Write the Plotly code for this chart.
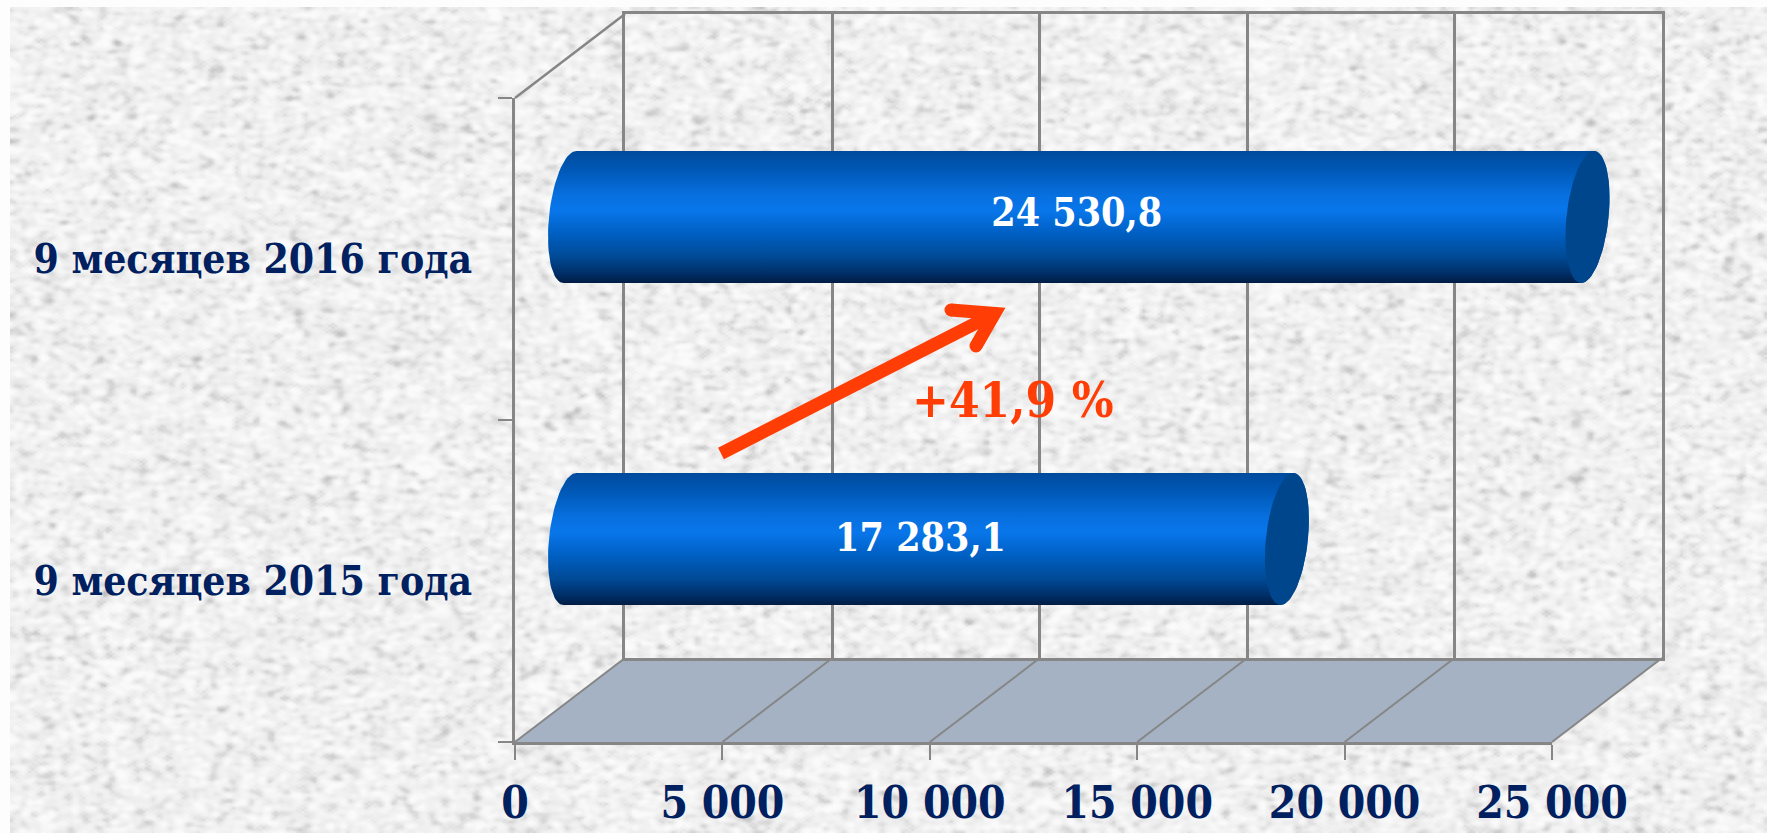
import base64, struct, zlib
import numpy as np
import plotly.graph_objects as go

# ---------- data ----------
categories = ["9 месяцев 2015 года", "9 месяцев 2016 года"]
values = [17283.1, 24530.8]
value_labels = ["17 283,1", "24 530,8"]
x_ticks = [0, 5000, 10000, 15000, 20000, 25000]
x_tick_labels = ["0", "5 000", "10 000", "15 000", "20 000", "25 000"]
growth_label = "+41,9 %"

# ---------- page geometry (pixels) ----------
W, H = 1767, 833
FX0, FX1, FY0, FY1 = 515, 1552, 98, 742       # front plane
DX, DY = 110, 84                              # depth of the 3D box
PAD = 60                                      # room round the cylinders for their round ends
NAVY, ORANGE, GRID = "#002060", "#FF3D05", "#868686"
FONT = "DejaVu Serif Condensed"


def px(x):
    return x / W


def py(y):
    return 1 - y / H


def dom_x(a, b):
    return [px(a), px(b)]


def dom_y(top, bottom):
    return [py(bottom), py(top)]


# ---------- paper texture (page decoration only) ----------
def paper_texture(w, h):
    rng = np.random.default_rng(7)
    a = rng.normal(size=(h, w))
    for _ in range(2):
        a = (a + np.roll(a, 1, 0) + np.roll(a, -1, 0) + np.roll(a, 1, 1) + np.roll(a, -1, 1)) / 5
    a = a / a.std()
    g = np.clip(241 + 6 * a - 9 * np.clip(-a - 0.7, 0, None), 190, 251).astype(np.uint8)
    raw = b"".join(b"\x00" + row.tobytes() for row in g)

    def chunk(t, d):
        return struct.pack(">I", len(d)) + t + d + struct.pack(">I", zlib.crc32(t + d))

    png = (b"\x89PNG\r\n\x1a\n" + chunk(b"IHDR", struct.pack(">IIBBBBB", w, h, 8, 0, 0, 0, 0))
           + chunk(b"IDAT", zlib.compress(raw, 9)) + chunk(b"IEND", b""))
    return "data:image/png;base64," + base64.b64encode(png).decode()


fig = go.Figure()

# invisible traces so the front axes and the back wall render (lowest subplots)
fig.add_trace(go.Scatter(x=[0], y=[categories[0]], xaxis="x", yaxis="y", mode="markers",
                         marker=dict(opacity=0), hoverinfo="skip", showlegend=False))
fig.add_trace(go.Scatter(x=[0], y=[0], xaxis="x2", yaxis="y2", mode="markers",
                         marker=dict(opacity=0), hoverinfo="skip", showlegend=False))

# ---------- cylinders ----------
x_per_px = 25000 / (FX1 - FX0)
y_per_px = 2 / (FY1 - FY0)
CAP_A = 22 * x_per_px
BAR_HALF = 66 * y_per_px
PHI = np.radians(17)
GRADIENT = [[0, "#001C44"], [0.08, "#00306A"], [0.2, "#004A96"], [0.38, "#0060C4"], [0.55, "#0876EA"],
            [0.66, "#0870E0"], [0.85, "#0059B8"], [1, "#004A9C"]]

for i, (cat, val) in enumerate(zip(categories, values)):
    t_left = np.radians(np.linspace(90, 270, 40))
    t_right = np.radians(np.linspace(-90, 90, 40))
    xs = np.r_[0 + CAP_A * np.cos(t_left - PHI), val + CAP_A * np.cos(t_right - PHI)]
    ys = np.r_[i + BAR_HALF * np.sin(t_left), i + BAR_HALF * np.sin(t_right)]
    fig.add_trace(go.Scatter(x=xs, y=ys, xaxis="x3", yaxis="y3", mode="lines", line=dict(width=0),
                             fill="toself", fillgradient=dict(type="vertical", colorscale=GRADIENT),
                             hoverinfo="skip", showlegend=False))
    t = np.radians(np.linspace(0, 360, 80))
    fig.add_trace(go.Scatter(x=val + CAP_A * np.cos(t - PHI), y=i + BAR_HALF * np.sin(t),
                             xaxis="x3", yaxis="y3", mode="lines", line=dict(width=0),
                             fill="toself", fillcolor="#00468C", hoverinfo="skip", showlegend=False))

fig.add_trace(go.Scatter(x=[values[0] / 2 - 190, values[1] / 2 - 50], y=[-0.007, 1.003], xaxis="x3", yaxis="y3",
                         mode="text", text=value_labels, textposition="middle center",
                         textfont=dict(family=FONT, size=39, color="white", weight="bold"),
                         hoverinfo="skip", showlegend=False))


# ---------- 3D box shapes ----------
def seg(x0, y0, x1, y1, width=2, color=GRID, layer="below"):
    return dict(type="line", xref="paper", yref="paper", x0=px(x0), y0=py(y0), x1=px(x1), y1=py(y1),
                line=dict(color=color, width=width), layer=layer)


shapes = [dict(type="path", xref="paper", yref="paper", layer="below", line=dict(width=0), fillcolor="#A5B2C3",
               path=f"M {px(FX0)} {py(FY1)} L {px(FX0 + DX)} {py(FY1 - DY)} L {px(FX1 + DX)} {py(FY1 - DY)} "
                    f"L {px(FX1)} {py(FY1)} Z")]
for v in x_ticks:
    fx = FX0 + (FX1 - FX0) * v / 25000
    shapes.append(seg(fx, FY1, fx + DX, FY1 - DY))
shapes.append(seg(FX0, FY0, FX0 + DX, FY0 - DY, width=2.5))


# ---------- arrow ----------
def path_shape(pts, width):
    d = "M " + " L ".join(f"{px(a)} {py(b)}" for a, b in pts)
    return dict(type="path", xref="paper", yref="paper", path=d, line=dict(color=ORANGE, width=width),
                fillcolor="rgba(0,0,0,0)", layer="above")


def dot(a, b, r):
    return dict(type="circle", xref="paper", yref="paper", x0=px(a - r), x1=px(a + r), y0=py(b + r), y1=py(b - r),
                fillcolor=ORANGE, line=dict(width=0), layer="above")


shapes += [path_shape([(721, 453.5), (988, 317)], 13),
           path_shape([(951, 310), (994.7, 313.5), (976, 346)], 13),
           dot(951, 310, 6.5), dot(976, 346, 6.5)]

fig.update_layout(
    width=W, height=H, margin=dict(l=0, r=0, t=0, b=0, autoexpand=False), autosize=False,
    paper_bgcolor="#FDFDFD", plot_bgcolor="rgba(0,0,0,0)", showlegend=False,
    shapes=shapes,
    images=[dict(source=paper_texture((W - 10) // 3, (H - 7) // 2), xref="paper", yref="paper", x=px(10), y=py(7),
                 sizex=px(W - 10), sizey=1 - 7 / H, xanchor="left", yanchor="top",
                 sizing="stretch", layer="below")],
    xaxis=dict(domain=dom_x(FX0, FX1), range=[0, 25000], anchor="y", tickmode="array", tickvals=x_ticks,
               ticktext=x_tick_labels, ticks="outside", ticklen=15, tickcolor=GRID, tickwidth=2,
               showline=True, linecolor=GRID, linewidth=3, showgrid=False, zeroline=False, automargin=False,
               tickfont=dict(family=FONT, size=44, color=NAVY, weight="bold"), ticklabelstandoff=5),
    yaxis=dict(domain=dom_y(FY0, FY1), range=[-0.5, 1.5], anchor="x", type="category",
               categoryorder="array", categoryarray=categories, tickson="boundaries",
               ticks="outside", ticklen=14, tickcolor=GRID, tickwidth=2, automargin=False,
               showline=True, linecolor=GRID, linewidth=2.5, showgrid=False, zeroline=False,
               tickfont=dict(family=FONT, size=40.5, color=NAVY, weight="bold"), ticklabelstandoff=32),
    xaxis2=dict(domain=dom_x(FX0 + DX, FX1 + DX), range=[0, 25000], anchor="y2", tickmode="array", tickvals=x_ticks,
                showticklabels=False, ticks="", showgrid=True, gridcolor=GRID, gridwidth=2.5, zeroline=False,
                showline=True, mirror=True, linecolor=GRID, linewidth=2.5, automargin=False),
    yaxis2=dict(domain=dom_y(FY0 - DY, FY1 - DY), range=[0, 1], anchor="x2", showticklabels=False, ticks="",
                showgrid=False, zeroline=False, automargin=False,
                showline=True, mirror=True, linecolor=GRID, linewidth=2.5),
    xaxis3=dict(domain=dom_x(FX0 + DX / 2 - PAD, FX1 + DX / 2 + PAD),
                range=[-PAD * x_per_px, 25000 + PAD * x_per_px], anchor="y3", visible=False, automargin=False),
    yaxis3=dict(domain=dom_y(FY0 - DY / 2, FY1 - DY / 2), range=[-0.5, 1.5], anchor="x3", visible=False,
                automargin=False),
    annotations=[dict(text=growth_label, xref="paper", yref="paper", x=px(1013), y=py(400), showarrow=False,
                      font=dict(family=FONT, size=49, color=ORANGE, weight="bold"),
                      xanchor="center", yanchor="middle")],
)

fig.write_html("out.html", config={"displayModeBar": False},
               post_script="document.body.style.margin='0';document.body.style.overflow='hidden';")
